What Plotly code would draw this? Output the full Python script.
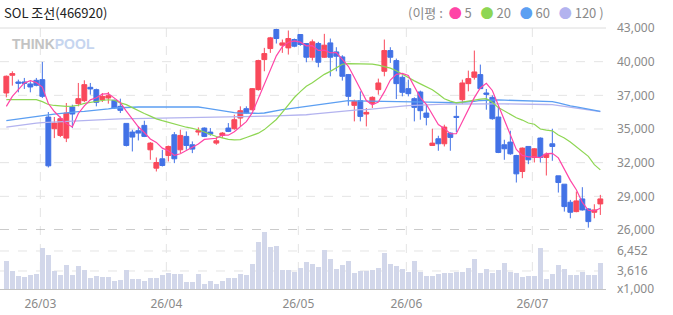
import plotly.graph_objects as go

# ---------------- data ----------------
opens = [37530, 39021, 38458, 38458, 38290, 38599, 38655, 35506, 34522, 33959,
         33734, 36349, 36631, 36884, 38008, 37812, 36968, 37109, 36912, 36406,
         34971, 34240, 34353, 34803, 32750, 31204, 31991, 32272, 34015, 32750,
         33875, 33172, 34240, 34578, 34240, 33312, 33959, 34578, 34522, 35422,
         36209, 36124, 37812, 40342, 41270, 42873, 41552, 41327, 42030, 42451,
         41692, 40539, 41692, 40539, 41748, 40989, 40567, 39077, 36490, 36884,
         35759, 36631, 37812, 39358, 41102, 40258, 38852, 37896, 37052, 37615,
         35843, 33115, 33678, 33256, 34156, 35562, 36968, 38318, 38852, 39077,
         37530, 37165, 35506, 33172, 33397, 32272, 30923, 33031, 32103, 33734,
         32103, 33256, 30557, 29854, 28335, 27548, 28616, 27773, 27491, 28194]
highs = [39000, 39358, 38655, 38796, 38514, 38796, 40146, 35928, 35506, 35562,
         36687, 36546, 38374, 38599, 38374, 37896, 37530, 37615, 36968, 37052,
         34971, 34437, 34718, 35196, 33400, 32103, 32750, 33100, 34240, 34437,
         34296, 33453, 34634, 34634, 34578, 33819, 34240, 34999, 35703, 36406,
         36406, 37950, 40330, 41327, 42250, 42950, 42030, 42789, 42114, 42451,
         41692, 42030, 41833, 42508, 42114, 41383, 40708, 39133, 36968, 37671,
         36265, 37250, 38740, 42030, 41383, 40427, 39021, 38655, 37165, 37727,
         36602, 34522, 33931, 34859, 34212, 36462, 38655, 39414, 41102, 39921,
         37868, 37333, 36406, 33594, 34353, 32328, 32947, 33031, 32891, 33791,
         32525, 34522, 30557, 29854, 28532, 29235, 29601, 27829, 28166, 28954]
lows = [37165, 38149, 37587, 37868, 37587, 38093, 37109, 31260, 33734, 33819,
        33397, 34578, 36406, 36771, 37390, 36406, 36771, 36631, 36209, 35843,
        33031, 32609, 33537, 33819, 31906, 30923, 31344, 31766, 31625, 32469,
        32750, 32469, 33959, 33819, 33931, 33172, 33734, 34240, 34437, 34718,
        35759, 36040, 37727, 39358, 40905, 41692, 40905, 40764, 41383, 41500,
        40117, 40258, 39696, 40483, 38936, 39358, 38571, 36462, 35140, 35140,
        34718, 36265, 37390, 38936, 40061, 37024, 37249, 37249, 35140, 35281,
        34803, 33115, 32666, 33031, 32666, 34240, 36602, 37671, 38655, 37868,
        36124, 35281, 32469, 31906, 32328, 29994, 30360, 31541, 31681, 31681,
        30585, 31822, 29151, 27548, 26985, 27491, 27632, 26198, 26985, 27266]
closes = [38940, 39161, 38346, 38346, 38037, 38177, 37249, 31400, 35000, 35365,
          35843, 35759, 37052, 38233, 37868, 36743, 37249, 37305, 36265, 36068,
          33115, 33819, 34156, 33875, 33312, 31681, 31428, 33031, 31991, 33959,
          33115, 32806, 34353, 33875, 34072, 33509, 34156, 34296, 35281, 36040,
          35843, 37896, 40258, 40849, 42170, 42114, 41748, 42114, 41467, 41608,
          40539, 41833, 40117, 41552, 40539, 40623, 38936, 37249, 36827, 35562,
          35899, 37165, 38374, 41102, 40539, 38318, 37587, 37474, 36321, 36040,
          35478, 33312, 33256, 34662, 33791, 35478, 38374, 38740, 39302, 37896,
          37418, 35365, 32525, 32834, 32413, 30725, 32891, 31906, 32834, 32103,
          32384, 33031, 29994, 27969, 27491, 28448, 27688, 26704, 27688, 28616]
# volume, in thousands of shares
volumes = [5034, 3616, 2907, 2765, 3048, 3190, 6877, 5885, 3616, 3048,
           4467, 3048, 4325, 3757, 2623, 2907, 2765, 2765, 2198, 2339,
           3757, 2481, 2481, 2198, 2623, 2623, 3048, 3332, 3190, 3190,
           2056, 2056, 3190, 1772, 2198, 1772, 2198, 2623, 2623, 3190,
           3048, 4609, 7728, 9146, 7019, 7161, 3757, 3757, 3474, 4041,
           4939, 4609, 4183, 6594, 5318, 3899, 4467, 5034, 3332, 3616,
           3616, 3757, 4041, 6168, 4609, 4325, 3899, 3521, 5034, 3474,
           2907, 2907, 3190, 3332, 3332, 3474, 3474, 4041, 5318, 3332,
           3899, 3332, 3757, 4750, 3474, 3332, 2765, 2907, 2907, 6877,
           2481, 3190, 4467, 3899, 3048, 3048, 3474, 3048, 3048, 4750]
# moving averages
ma5 = [36406, 37249, 37812, 38374, 38566, 38413, 38031, 36642, 35973, 35438,
       34971, 34673, 35804, 36450, 36951, 37131, 37429, 37480, 37086, 36726,
       36000, 35314, 34685, 34207, 33655, 33369, 32890, 32665, 32289, 32418,
       32705, 32980, 33245, 33622, 33644, 33723, 33993, 33982, 34263, 34656,
       35123, 35871, 37064, 38177, 39403, 40657, 41428, 41799, 41923, 41810,
       41495, 41512, 41113, 41130, 40916, 40933, 40353, 39780, 38835, 37839,
       36895, 36540, 36765, 37620, 38616, 39100, 39184, 39004, 38048, 37148,
       36580, 35725, 34881, 34550, 34100, 34100, 35112, 36209, 37137, 37958,
       38346, 37744, 36501, 35208, 34111, 32772, 32278, 32154, 32154, 32092,
       32424, 32452, 32069, 31096, 30174, 29387, 28318, 27660, 27604, 27829]
ma20 = [36970, 36970, 36970, 36970, 36980, 36970, 36800, 36560, 36480, 36420,
        36400, 36430, 36500, 36650, 36750, 36830, 36900, 36960, 36920, 36700,
        36550, 36300, 36020, 35800, 35580, 35350, 35200, 35050, 34900, 34750,
        34650, 34550, 34440, 34250, 34050, 33870, 33750, 33620, 33590, 33600,
        33780, 33950, 34150, 34450, 34850, 35300, 35900, 36500, 37150, 37650,
        38100, 38400, 38750, 39100, 39350, 39650, 39950, 40000, 40000, 39990,
        39980, 39960, 39880, 39780, 39620, 39400, 39100, 38800, 38550, 38300,
        38050, 37800, 37450, 37050, 36850, 36700, 36760, 36850, 36950, 37020,
        37050, 36750, 36300, 36000, 35700, 35450, 35250, 35000, 34900, 34500,
        34400, 34350, 34000, 33750, 33400, 33000, 32650, 32200, 31500, 31060]
ma60 = [35196, 35260, 35320, 35380, 35440, 35500, 35590, 35680, 35760, 35820,
        35870, 35930, 35960, 35990, 36030, 36070, 36124, 36200, 36267, 36300,
        36330, 36352, 36352, 36352, 36352, 36352, 36352, 36352, 36352, 36352,
        36352, 36350, 36350, 36280, 36200, 36124, 36000, 35900, 35870, 35846,
        35830, 35800, 35820, 35846, 35950, 36060, 36130, 36200, 36267, 36310,
        36352, 36420, 36490, 36560, 36620, 36689, 36790, 36883, 36870, 36860,
        36850, 36840, 36830, 36824, 36824, 36824, 36824, 36810, 36800, 36790,
        36780, 36773, 36750, 36720, 36700, 36720, 36750, 36770, 36830, 36900,
        36930, 36950, 36950, 36930, 36920, 36900, 36880, 36860, 36830, 36820,
        36810, 36800, 36700, 36546, 36450, 36360, 36267, 36180, 36100, 35980]
ma120 = [34662, 34740, 34820, 34890, 34950, 34999, 35030, 35060, 35090, 35115,
         35140, 35170, 35200, 35230, 35255, 35281, 35300, 35315, 35330, 35345,
         35355, 35365, 35375, 35385, 35395, 35405, 35422, 35422, 35422, 35422,
         35422, 35422, 35422, 35430, 35440, 35450, 35465, 35478, 35490, 35505,
         35520, 35535, 35550, 35562, 35580, 35600, 35620, 35640, 35660, 35646,
         35700, 35750, 35800, 35860, 35928, 35960, 36000, 36040, 36080, 36124,
         36124, 36180, 36240, 36300, 36360, 36406, 36430, 36460, 36490, 36520,
         36546, 36560, 36580, 36590, 36602, 36610, 36610, 36610, 36610, 36610,
         36610, 36610, 36610, 36610, 36610, 36610, 36610, 36610, 36600, 36580,
         36560, 36546, 36480, 36406, 36320, 36250, 36209, 36120, 36030, 35960]
price_ticks = [26000, 28833, 31667, 34500, 37333, 40167, 43000]
price_tick_text = ["26,000", "29,000", "32,000", "35,000", "37,000", "40,000", "43,000"]
vol_ticks = [1063, 3616, 6452]
vol_tick_text = ["x1,000", "3,616", "6,452"]
month_labels = ["26/03", "26/04", "26/05", "26/06", "26/07"]
month_start_idx = [6, 27, 49, 67, 88]

# ---------------- styling ----------------
RED = "#f9495b"
BLUE = "#4272e6"
C5, C20, C60, C120 = "#ff45a6", "#8ed653", "#5c9ff2", "#b3b3ef"
VOLC = "#d2d7ea"
GRID = "#e4e4e4"
TXT = "#8a8a8a"
FONT = "Noto Sans, Noto Sans CJK KR, sans-serif"

n = len(closes)
x = list(range(n))
month_pos = [m - 0.33 for m in month_start_idx]

fig = go.Figure()
fig.add_trace(go.Bar(x=x, y=volumes, marker=dict(color=VOLC, line=dict(width=0)),
                     width=0.8, xaxis="x", yaxis="y2", hoverinfo="skip", showlegend=False))
fig.add_trace(go.Candlestick(
    x=x, open=opens, high=highs, low=lows, close=closes,
    increasing=dict(line=dict(color=RED, width=1), fillcolor=RED),
    decreasing=dict(line=dict(color=BLUE, width=1), fillcolor=BLUE),
    whiskerwidth=0, showlegend=False, xaxis="x", yaxis="y"))
for arr, col, w in [(ma120, C120, 1.3), (ma60, C60, 1.3), (ma20, C20, 1.2), (ma5, C5, 1.2)]:
    fig.add_trace(go.Scatter(x=x, y=arr, mode="lines", line=dict(color=col, width=w),
                             hoverinfo="skip", showlegend=False, xaxis="x", yaxis="y"))

shapes = []
for p in price_ticks[1:-1]:
    shapes.append(dict(type="line", xref="paper", yref="y", x0=0, x1=1, y0=p, y1=p,
                       line=dict(color=GRID, width=1, dash="dash"), layer="below"))
for v in vol_ticks[1:]:
    shapes.append(dict(type="line", xref="paper", yref="y2", x0=0, x1=1, y0=v, y1=v,
                       line=dict(color=GRID, width=1, dash="dash"), layer="below"))
for mp in month_pos:
    shapes.append(dict(type="line", xref="x", yref="paper", x0=mp, x1=mp, y0=0, y1=1,
                       line=dict(color=GRID, width=1, dash="dash"), layer="below"))
# top border and separator
shapes.append(dict(type="line", xref="paper", yref="paper", x0=0, x1=1, y0=1, y1=1,
                   line=dict(color="#dcdcdc", width=1)))
shapes.append(dict(type="line", xref="paper", yref="y", x0=0, x1=1, y0=26000, y1=26000,
                   line=dict(color="#9a9a9a", width=1, dash="dash")))

legend_html = ("(이평 : &nbsp;<span style='color:%s'>●</span> 5 &nbsp;&nbsp;<span style='color:%s'>●</span> 20 "
               "&nbsp;&nbsp;<span style='color:%s'>●</span> 60 &nbsp;&nbsp;<span style='color:%s'>●</span> 120 )"
               % (C5, C20, C60, C120))

fig.update_layout(
    width=673, height=315,
    margin=dict(l=0, r=67, t=28, b=26),
    paper_bgcolor="white", plot_bgcolor="white",
    font=dict(family=FONT, size=12, color=TXT),
    boxgap=0.1, boxgroupgap=0.1,
    bargap=0,
    showlegend=False,
    hovermode=False,
    xaxis=dict(range=[-1.055, 99.945], showgrid=False, zeroline=False, anchor="y2",
               tickvals=month_pos, ticktext=month_labels, ticks="", ticklabelstandoff=4,
               showline=True, linecolor="#c4c4c4", linewidth=1,
               rangeslider=dict(visible=False), tickfont=dict(size=12, color=TXT),
               fixedrange=True),
    yaxis=dict(domain=[0.2261, 1], range=[26000, 43000], side="right", anchor="x",
               tickvals=price_ticks, ticktext=price_tick_text, showgrid=False,
               zeroline=False, ticks="", ticklabelstandoff=10,
               tickfont=dict(size=12, color=TXT)),
    yaxis2=dict(domain=[0, 0.222], range=[1063, 9280], side="right", anchor="x",
                tickvals=vol_ticks, ticktext=vol_tick_text, showgrid=False,
                zeroline=False, ticks="", ticklabelstandoff=10,
                tickfont=dict(size=12, color=TXT)),
    shapes=shapes,
    annotations=[
        dict(text="SOL 조선(466920)", xref="paper", yref="paper", x=0.004, y=1,
             yshift=16, xanchor="left", yanchor="middle", showarrow=False,
             font=dict(family="Noto Sans CJK KR, Noto Sans", size=13, color="#222222")),
        dict(text=legend_html, xref="paper", yref="paper", x=1.0, y=1, yshift=16,
             xanchor="right", yanchor="middle", showarrow=False,
             font=dict(family="Noto Sans CJK KR, Noto Sans", size=13, color="#8a8a8a")),
        dict(text="<b><span style='color:#c3c3c3'>THINK</span><span style='color:#c6d5ef'>POOL</span></b>",
             xref="paper", yref="paper", x=0.016, y=1, yshift=-16, xanchor="left",
             yanchor="middle", showarrow=False,
             font=dict(family="Liberation Sans, Arial", size=14)),
    ],
)

fig.write_html("out.html")
